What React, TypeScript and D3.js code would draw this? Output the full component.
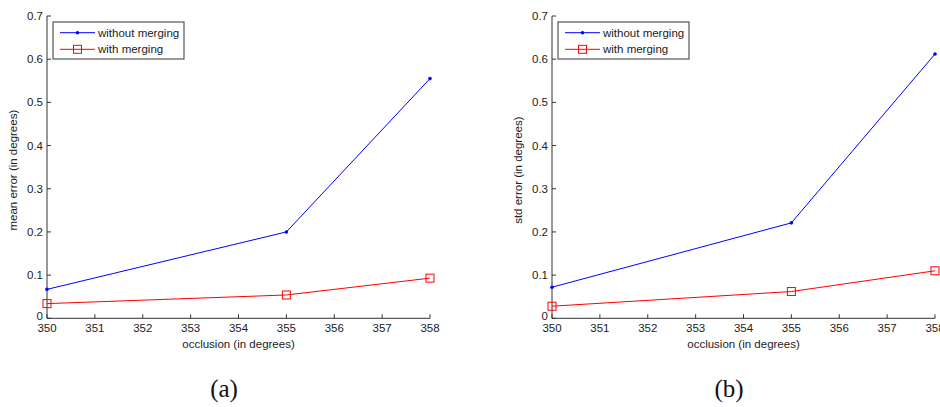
import React from "react";
import * as d3 from "d3";

const occlusion = [350, 355, 358];
const meanWithout = [0.067, 0.2, 0.555];
const meanWith = [0.034, 0.054, 0.093];
const stdWithout = [0.072, 0.221, 0.612];
const stdWith = [0.028, 0.062, 0.11];
const xTicks = [350, 351, 352, 353, 354, 355, 356, 357, 358];
const yTicks = [0, 0.1, 0.2, 0.3, 0.4, 0.5, 0.6, 0.7];
const seriesNames = ["without merging", "with merging"];
const panels = [
  { ylabel: "mean error (in degrees)", caption: "(a)", without: meanWithout, withM: meanWith },
  { ylabel: "std error (in degrees)", caption: "(b)", without: stdWithout, withM: stdWith },
];

const AX = "#333";
const FONT = "Liberation Sans, Arial, Helvetica, sans-serif";

function Panel({ ox, p }: { ox: number; p: any }) {
  const x = d3.scaleLinear().domain([350, 358]).range([ox, ox + 383]);
  const y = d3.scaleLinear().domain([0, 0.7]).range([318.3, 16]);
  const line = d3
    .line<number>()
    .x((_, i) => x(occlusion[i]))
    .y((d) => y(d));
  const lx = ox + 6;
  return (
    <g>
      <line x1={x(350)} x2={x(350)} y1={y(0)} y2={y(0.7)} stroke={AX} strokeWidth={1} />
      <line x1={x(350)} x2={x(358)} y1={y(0)} y2={y(0)} stroke={AX} strokeWidth={1} />
      {yTicks.map((t) => (
        <g key={"y" + t}>
          <line x1={x(350)} x2={x(350) + 4} y1={y(t)} y2={y(t)} stroke={AX} />
          <text x={x(350) - 4} y={t === 0 ? y(t) - 2 : y(t)} dy="0.35em" textAnchor="end" fontSize={11.5} fontFamily={FONT} fill="#222">
            {t === 0 ? "0" : t.toFixed(1)}
          </text>
        </g>
      ))}
      {xTicks.map((t) => (
        <g key={"x" + t}>
          <line x1={x(t)} x2={x(t)} y1={y(0)} y2={y(0) - 4} stroke={AX} />
          <text x={x(t)} y={y(0) + 14} textAnchor="middle" fontSize={11.5} fontFamily={FONT} fill="#222">
            {t}
          </text>
        </g>
      ))}
      <text x={x(354)} y={348} textAnchor="middle" fontSize={11.5} fontFamily={FONT} fill="#222">
        occlusion (in degrees)
      </text>
      <text
        transform={`translate(${ox - 30},${(y(0) + y(0.7)) / 2 + 3}) rotate(-90)`}
        textAnchor="middle"
        fontSize={11.5}
        fontFamily={FONT}
        fill="#222"
      >
        {p.ylabel}
      </text>
      <path d={line(p.without) || ""} fill="none" stroke="#0000ff" strokeWidth={1} />
      <path d={line(p.withM) || ""} fill="none" stroke="#ff0000" strokeWidth={1} />
      {p.without.map((v: number, i: number) => (
        <circle key={"b" + i} cx={x(occlusion[i])} cy={y(v)} r={1.8} fill="#0000ff" />
      ))}
      {p.withM.map((v: number, i: number) => (
        <rect key={"r" + i} x={x(occlusion[i]) - 4} y={y(v) - 4} width={8} height={8} fill="none" stroke="#ff0000" strokeWidth={1} />
      ))}
      <rect x={lx} y={22} width={131} height={37} fill="#fff" stroke="#555" strokeWidth={1.2} />
      <line x1={lx + 7} x2={lx + 42} y1={32.7} y2={32.7} stroke="#0000ff" />
      <circle cx={lx + 24.5} cy={32.7} r={1.8} fill="#0000ff" />
      <text x={lx + 45} y={32.7} dy="0.35em" fontSize={11.5} fontFamily={FONT} fill="#222">
        {seriesNames[0]}
      </text>
      <line x1={lx + 7} x2={lx + 42} y1={49.3} y2={49.3} stroke="#ff0000" />
      <rect x={lx + 20.5} y={45.3} width={8} height={8} fill="none" stroke="#ff0000" />
      <text x={lx + 45} y={49.3} dy="0.35em" fontSize={11.5} fontFamily={FONT} fill="#222">
        {seriesNames[1]}
      </text>
      <text x={ox + 177} y={397} textAnchor="middle" fontSize={25} fontFamily="Liberation Serif, DejaVu Serif, serif" fill="#111">
        {p.caption}
      </text>
    </g>
  );
}

export default function App() {
  return (
    <svg width={940} height={407} style={{ position: "absolute", left: 0, top: 0, background: "#fff" }}>
      <rect width={940} height={407} fill="#fff" />
      <Panel ox={47} p={panels[0]} />
      <Panel ox={552} p={panels[1]} />
    </svg>
  );
}
